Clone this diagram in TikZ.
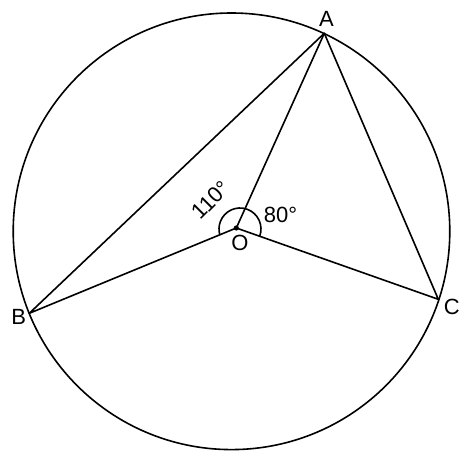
\documentclass[tikz,border=0pt]{standalone}
\usepackage{fontspec}
\setmainfont{Liberation Sans}
\begin{document}
\begin{tikzpicture}[x=1pt,y=1pt,
  geo/.style={line width=1.6pt,line join=round,line cap=round},
  lbl/.style={inner sep=0pt,font=\fontsize{22}{22}\selectfont}]
\useasboundingbox (0,0) rectangle (467,458);
\coordinate (Ctr) at (231.5,226.7);
\coordinate (A) at (324.3,424.7);
\coordinate (B) at (29.3,144.7);
\coordinate (C) at (438.3,158.7);
\coordinate (O) at (236.3,230);
\coordinate (Ac) at (240,229);
\draw[geo] (Ctr) circle[radius=218.3];
\draw[geo] (A) -- (B) -- (O) -- (C) -- cycle;
\draw[geo] (O) -- (A);
\draw[geo] ([shift={(-20.3:21)}]Ac) arc[start angle=-20.3,end angle=195.8,radius=21];
\fill (O) circle[radius=2.6];
\node[lbl] (la) at (326.5,439) {A};
\node[lbl] (lb) at (18.8,141.3) {B};
\node[lbl] (lc) at (451.7,151.3) {C};
\node[lbl] (lo) at (240,214.7) {O};
\node[lbl] (l80) at (280.5,243) {80°};
\node[lbl,rotate=45] (l110) at (211,258) {110°};
\end{tikzpicture}
\end{document}
